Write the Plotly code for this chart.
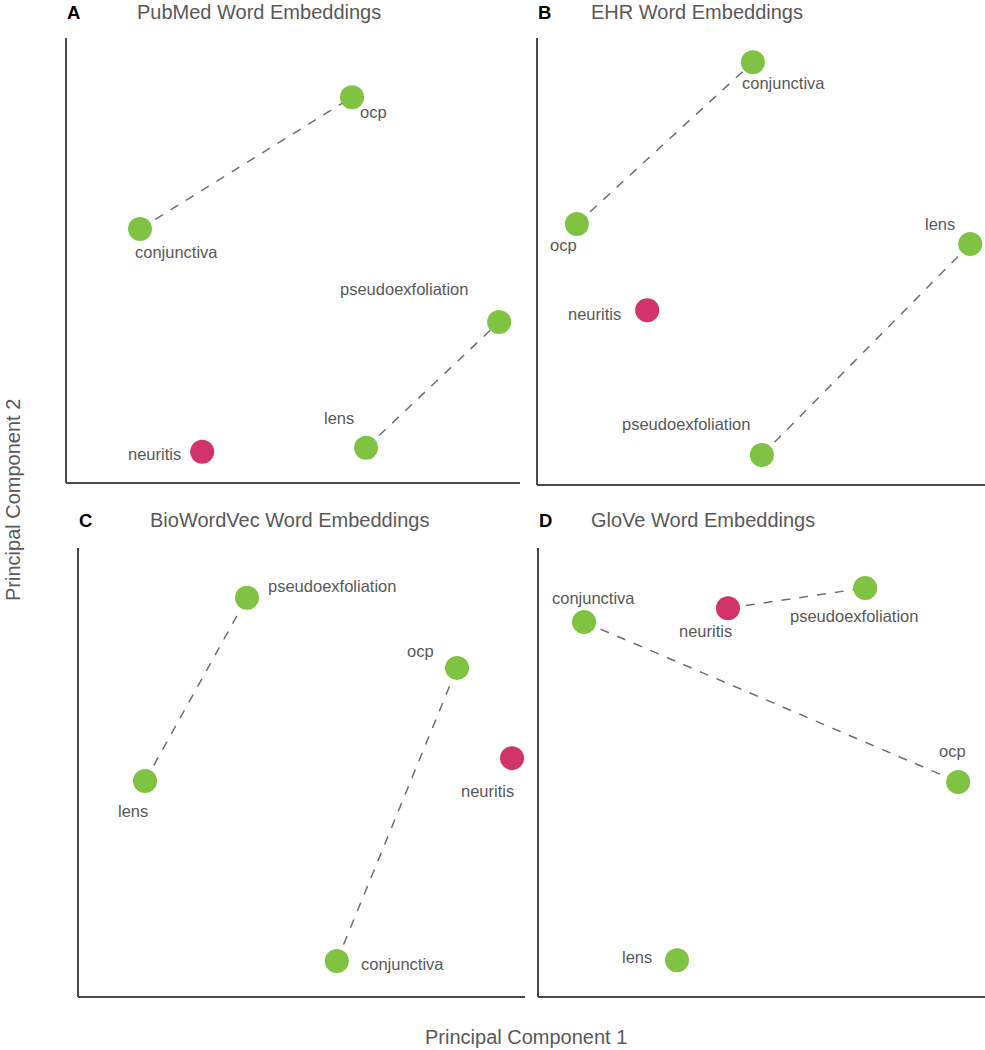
import plotly.graph_objects as go

# ---------------- data (PCA coordinates, normalised to each panel) ----------------
words_A = ["ocp", "conjunctiva", "pseudoexfoliation", "lens", "neuritis"]
pc1_A = [0.630, 0.163, 0.954, 0.661, 0.300]
pc2_A = [0.867, 0.571, 0.362, 0.079, 0.070]
pairs_A = [("conjunctiva", "ocp"), ("lens", "pseudoexfoliation")]

words_B = ["conjunctiva", "ocp", "lens", "neuritis", "pseudoexfoliation"]
pc1_B = [0.482, 0.089, 0.967, 0.246, 0.502]
pc2_B = [0.946, 0.584, 0.539, 0.391, 0.067]
pairs_B = [("ocp", "conjunctiva"), ("pseudoexfoliation", "lens")]

words_C = ["pseudoexfoliation", "ocp", "neuritis", "lens", "conjunctiva"]
pc1_C = [0.378, 0.848, 0.971, 0.150, 0.579]
pc2_C = [0.889, 0.733, 0.532, 0.481, 0.080]
pairs_C = [("lens", "pseudoexfoliation"), ("conjunctiva", "ocp")]

words_D = ["conjunctiva", "neuritis", "pseudoexfoliation", "ocp", "lens"]
pc1_D = [0.103, 0.425, 0.732, 0.940, 0.311]
pc2_D = [0.835, 0.866, 0.911, 0.479, 0.082]
pairs_D = [("neuritis", "pseudoexfoliation"), ("conjunctiva", "ocp")]

panel_letters = ["A", "B", "C", "D"]
panel_titles = ["PubMed Word Embeddings", "EHR Word Embeddings",
                "BioWordVec Word Embeddings", "GloVe Word Embeddings"]
highlight_word = "neuritis"

# ---------------- styling ----------------
W, H = 985, 1050
GREEN = "#80C342"
MAGENTA = "#D1336A"
TEXT = "#595959"
FONT = "Liberation Sans, Arial, sans-serif"

# panel frames in pixels: (left, right, top, bottom)
frames = [(66, 520, 38, 483), (537, 985, 38, 485),
          (78, 525, 548, 997), (538, 985, 548, 997)]
# label offsets (px) relative to the point: dx right, dy up
label_offsets = [
    {"ocp": (21, -15), "conjunctiva": (36, -23), "pseudoexfoliation": (-95, 33),
     "lens": (-27, 30), "neuritis": (-48, -2)},
    {"conjunctiva": (31, -21), "ocp": (-13, -21), "lens": (-30, 20),
     "neuritis": (-53, -4), "pseudoexfoliation": (-76, 31)},
    {"pseudoexfoliation": (85, 12), "ocp": (-37, 17), "neuritis": (-25, -33),
     "lens": (-12, -30), "conjunctiva": (66, -3)},
    {"conjunctiva": (9, 24), "neuritis": (-22, -23), "pseudoexfoliation": (-11, -28),
     "ocp": (-6, 31), "lens": (-40, 3)},
]
title_pos = [(259, 12), (697, 12), (289, 520), (703, 520)]
letter_pos = [(73, 12), (544, 12), (85, 520), (545, 520)]

panels = [(words_A, pc1_A, pc2_A, pairs_A), (words_B, pc1_B, pc2_B, pairs_B),
          (words_C, pc1_C, pc2_C, pairs_C), (words_D, pc1_D, pc2_D, pairs_D)]

fig = go.Figure()
annotations = []
layout_axes = {}

for i, (words, xs, ys, pairs) in enumerate(panels):
    n = i + 1
    xa = "x" if n == 1 else f"x{n}"
    ya = "y" if n == 1 else f"y{n}"
    l, r, t, b = frames[i]
    axkw = dict(showgrid=False, zeroline=False, showticklabels=False, ticks="",
                showline=False, fixedrange=True)
    layout_axes["xaxis" if n == 1 else f"xaxis{n}"] = dict(
        domain=[l / W, r / W], range=[0, 1], anchor=ya, **axkw)
    layout_axes["yaxis" if n == 1 else f"yaxis{n}"] = dict(
        domain=[1 - b / H, 1 - t / H], range=[0, 1], anchor=xa, **axkw)

    lookup = {w: (x, y) for w, x, y in zip(words, xs, ys)}
    for a, c in pairs:
        fig.add_trace(go.Scatter(
            x=[lookup[a][0], lookup[c][0]], y=[lookup[a][1], lookup[c][1]],
            mode="lines", line=dict(color="#6E6E6E", width=1.5, dash="dash"),
            xaxis=xa, yaxis=ya, showlegend=False, hoverinfo="skip",
            cliponaxis=False))
    fig.add_trace(go.Scatter(
        x=xs, y=ys, mode="markers", xaxis=xa, yaxis=ya, showlegend=False,
        marker=dict(size=24, color=[MAGENTA if w == highlight_word else GREEN for w in words],
                    line=dict(width=0)),
        cliponaxis=False, text=words, hoverinfo="text"))
    for w, x, y in zip(words, xs, ys):
        dx, dy = label_offsets[i][w]
        annotations.append(dict(
            x=x, y=y, xref=xa, yref=ya, text=w, showarrow=False,
            xshift=dx, yshift=dy, xanchor="center", yanchor="middle",
            font=dict(family=FONT, size=16.5, color=TEXT)))
    # axis lines (left and bottom)
    fig.add_shape(type="line", xref="paper", yref="paper",
                  x0=l / W, x1=l / W, y0=1 - b / H, y1=1 - t / H,
                  line=dict(color="#4A4A4A", width=2))
    fig.add_shape(type="line", xref="paper", yref="paper",
                  x0=l / W, x1=r / W, y0=1 - b / H, y1=1 - b / H,
                  line=dict(color="#4A4A4A", width=2))
    tx, ty = title_pos[i]
    annotations.append(dict(x=tx / W, y=1 - ty / H, xref="paper", yref="paper",
                            text=panel_titles[i], showarrow=False,
                            xanchor="center", yanchor="middle",
                            font=dict(family=FONT, size=20, color=TEXT)))
    lx, ly = letter_pos[i]
    annotations.append(dict(x=lx / W, y=1 - ly / H, xref="paper", yref="paper",
                            text=f"<b>{panel_letters[i]}</b>", showarrow=False,
                            xanchor="center", yanchor="middle",
                            font=dict(family=FONT, size=18.5, color="#000000")))

annotations.append(dict(x=526 / W, y=1 - 1037 / H, xref="paper", yref="paper",
                        text="Principal Component 1", showarrow=False,
                        xanchor="center", yanchor="middle",
                        font=dict(family=FONT, size=20, color=TEXT)))
annotations.append(dict(x=13 / W, y=1 - 500 / H, xref="paper", yref="paper",
                        text="Principal Component 2", showarrow=False, textangle=-90,
                        xanchor="center", yanchor="middle",
                        font=dict(family=FONT, size=20, color=TEXT)))

fig.update_layout(width=W, height=H, margin=dict(l=0, r=0, t=0, b=0),
                  paper_bgcolor="white", plot_bgcolor="white",
                  annotations=annotations, **layout_axes)

fig.write_html("out.html", config={"displayModeBar": False},
               post_script="document.body.style.margin='0px';document.body.style.overflow='hidden';")
